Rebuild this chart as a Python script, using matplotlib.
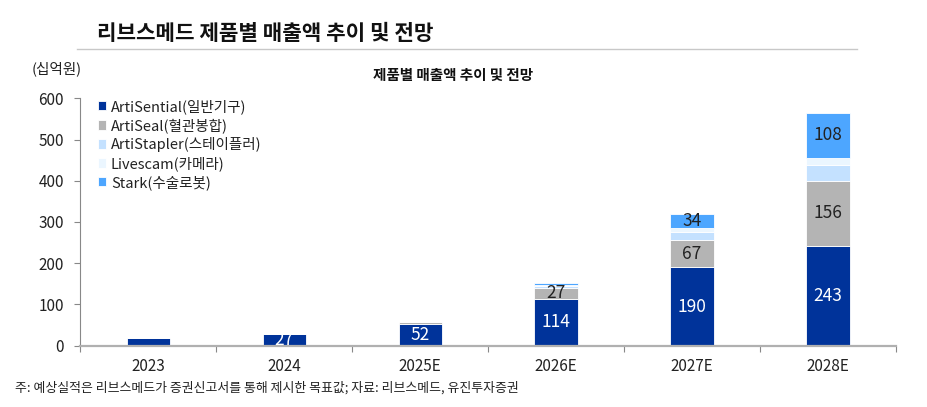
import matplotlib
matplotlib.use("Agg")
import matplotlib.pyplot as plt
import numpy as np

plt.rcParams['font.family'] = ['Noto Sans CJK KR', 'DejaVu Sans']

# 데이터 (십억원)
years = ["2023", "2024", "2025E", "2026E", "2027E", "2028E"]
series_names = ["ArtiSential(일반기구)", "ArtiSeal(혈관봉합)", "ArtiStapler(스테이플러)",
                "Livescam(카메라)", "Stark(수술로봇)"]
artisential = [18, 28, 52, 114, 190, 243]
artiseal = [0, 0, 5, 27, 67, 156]
artistapler = [0, 0, 0, 4, 19, 40]
livescam = [0, 0, 0, 3, 9, 17]
stark = [0, 0, 0, 5, 34, 108]
labels_artisential = ["", "27", "52", "114", "190", "243"]
labels_artiseal = ["", "", "", "27", "67", "156"]
labels_stark = ["", "", "", "", "34", "108"]

colors = ["#00339a", "#b4b4b4", "#c4e1ff", "#ebf6ff", "#4da6ff"]
text_colors = ["white", "#222222", None, None, "#222222"]

fig = plt.figure(figsize=(9.28, 4.07), dpi=100)
ax = fig.add_axes([0.0867, 0.1506, 0.8788, 0.6079])

x = np.arange(len(years))
bottom = np.zeros(len(years))
all_series = [artisential, artiseal, artistapler, livescam, stark]
all_labels = [labels_artisential, labels_artiseal, None, None, labels_stark]
for vals, col, name, labs, tc in zip(all_series, colors, series_names, all_labels, text_colors):
    vals = np.array(vals, dtype=float)
    ax.bar(x, vals, 0.32, bottom=bottom, color=col, edgecolor="white",
           linewidth=0.6, label=name)
    if labs is not None:
        for i, lab in enumerate(labs):
            if lab:
                ax.text(x[i], bottom[i] + vals[i] / 2, lab, ha="center", va="center",
                        fontsize=12.5, color=tc)
    bottom += vals

ax.set_xlim(-0.5, len(years) - 0.5)
ax.set_ylim(0, 600)
ax.set_yticks(range(0, 601, 100))
ax.set_xticks(x)
ax.set_xticklabels(years, fontsize=11, color="#222222")
ax.set_xticks(np.arange(-0.5, len(years)), minor=True)
ax.tick_params(axis="x", which="major", length=0, pad=9)
ax.tick_params(axis="x", which="minor", length=4, color="#888888", width=0.8)
ax.tick_params(axis="y", labelsize=11, length=4, color="#888888", width=0.8,
               labelcolor="#222222", pad=8)
for s in ["top", "right"]:
    ax.spines[s].set_visible(False)
ax.spines["left"].set_color("#888888")
ax.spines["left"].set_linewidth(0.8)
ax.spines["bottom"].set_color("#b0b0b0")
ax.spines["bottom"].set_linewidth(1.6)

leg = ax.legend(loc="upper left", bbox_to_anchor=(0.014, 1.02), frameon=False,
                fontsize=10.5, handlelength=0.6, handleheight=0.6, handletextpad=0.3,
                labelspacing=0.28, borderaxespad=0.0)
for t in leg.get_texts():
    t.set_color("#222222")

# 제목
fig.text(0.104, 0.918, "리브스메드 제품별 매출액 추이 및 전망", fontsize=15.3,
         fontweight="bold", ha="left", va="center", color="#111111")
fig.add_artist(plt.Line2D([0.083, 0.923], [0.879, 0.879], color="#c8c8c8", linewidth=1.0))
fig.text(0.034, 0.832, "(십억원)", fontsize=10.5, ha="left", va="center", color="#222222")
fig.text(0.488, 0.815, "제품별 매출액 추이 및 전망", fontsize=10.5, fontweight="bold",
         ha="center", va="center", color="#111111")
fig.text(0.016, 0.047, "주: 예상실적은 리브스메드가 증권신고서를 통해 제시한 목표값; 자료: 리브스메드, 유진투자증권",
         fontsize=9.3, ha="left", va="center", color="#222222")

fig.savefig("out.png", dpi=100)
